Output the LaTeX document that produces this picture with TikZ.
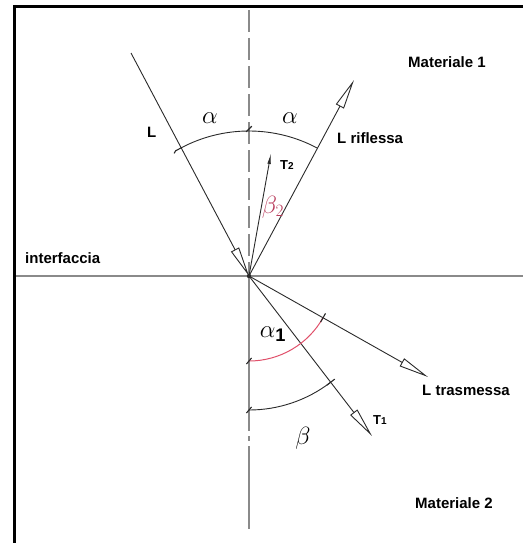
\documentclass[tikz,border=0pt]{standalone}
\usepackage{fontspec}
\setmainfont{Liberation Sans}
\usetikzlibrary{arrows.meta,calc}
\definecolor{axisgray}{HTML}{8A8A8A}
\definecolor{raycol}{HTML}{2A2A2A}
\definecolor{arcred}{HTML}{E0506A}
\definecolor{labred}{HTML}{B83A5A}
\begin{document}
\begin{tikzpicture}[x=1pt,y=-1pt,
  frame/.style={line width=3pt,black},
  axis/.style={line width=1.6pt,axisgray},
  ray/.style={line width=0.9pt,raycol},
  hollow/.style={-{Triangle[open,length=30pt,width=9pt,line width=0.9pt]}},
  thinhead/.style={-{Latex[length=11pt,width=3.5pt]}},
  tick/.style={line width=1.1pt,raycol},
  lab/.style={font=\fontsize{15}{17}\selectfont\bfseries,inner sep=0pt},
  tlab/.style={font=\fontsize{13}{14}\selectfont\bfseries,inner sep=0pt},
  greek/.style={inner sep=0pt,font=\fontsize{30}{32}\selectfont}]
\useasboundingbox (0,0) rectangle (523,543);
% frame (top and left only)
\draw[frame] (14.5,6.5) -- (523,6.5);
\draw[frame] (14.5,5) -- (14.5,543);
% axes
\coordinate (O) at (249,276);
\coordinate (Vtop) at (249,10);
\coordinate (Vmid) at (249,431);
\coordinate (Vdash) at (249,446);
\coordinate (Vbot) at (249,529);
\coordinate (Hl) at (16,276);
\coordinate (Hr) at (523,276);
\draw[axis] (Hl) -- (Hr);
\draw[axis,dash pattern=on 22pt off 6pt] (Vtop) -- (O);
\draw[axis] (O) -- (Vmid);
\draw[axis] (249,436) -- (249,441);
\draw[axis] (Vdash) -- (Vbot);
% rays
\coordinate (Lstart) at (131,53);
\coordinate (Rtip) at (354,80);
\coordinate (T2tip) at (271,153);
\coordinate (Ttip) at (428,377);
\coordinate (T1tip) at (372,436);
\draw[ray,hollow] (Lstart) -- (O);
\draw[ray,hollow] (O) -- (Rtip);
\draw[ray,thinhead] (O) -- (T2tip);
\draw[ray,hollow] (O) -- (Ttip);
\draw[ray,hollow] (O) -- (T1tip);
\fill[raycol] (O) circle (2.2);
% upper arc alpha
\draw[ray] ($(O)+(-118:145)$) arc[start angle=-118,end angle=-62,radius=145];
\draw[tick] ($(O)+(-118:145)$) ++(-28:1) -- ++(152:7) -- ++(120:3);
\draw[tick] ($(O)+(-90:147)$) ++(-45:4) -- ++(135:8);
% lower arcs
\draw[line width=1pt,arcred] ($(O)+(90:85)$) arc[start angle=90,end angle=29.4,radius=85];
\draw[ray] ($(O)+(90:134)$) arc[start angle=90,end angle=52.4,radius=134];
\draw[tick] ($(O)+(29.4:85)$) ++(119.4:5) -- ++(-60.6:10);
\draw[tick] ($(O)+(52.4:134)$) ++(142.4:5) -- ++(-37.6:10);
\draw[tick] ($(O)+(90:85)$) ++(-50:4) -- ++(130:8);
\draw[tick] ($(O)+(90:134)$) ++(-50:4) -- ++(130:8);
% labels
\node[lab,anchor=base west] (lL) at (147,137) {L};
\node[lab,anchor=base west] (lR) at (337,143) {L riflessa};
\node[lab,anchor=base west] (m1) at (408,67) {Materiale 1};
\node[lab,anchor=base west] (itf) at (25,263) {interfaccia};
\node[lab,anchor=base west] (lT) at (422,395) {L trasmessa};
\node[lab,anchor=base west] (m2) at (415,508) {Materiale 2};
\node[tlab,anchor=base west] (t2) at (280,169) {T{\fontsize{10}{10}\selectfont 2}};
\node[tlab,anchor=base west] (t1) at (373,424) {T{\fontsize{10}{10}\selectfont 1}};
\node[greek] (a1) at (210,118) {$\alpha$};
\node[greek] (a2) at (290,118) {$\alpha$};
\node[greek,font=\fontsize{24}{26}\selectfont,text=labred] (b2) at (273,207) {$\beta_{\fontsize{13}{13}\selectfont 2}$};
\node[greek,font=\fontsize{26}{28}\selectfont] (a3) at (273,334) {$\alpha_{\fontsize{13}{13}\selectfont\mathbf{1}}$};
\node[greek,font=\fontsize{24}{26}\selectfont] (bb) at (303,438) {$\beta$};
\end{tikzpicture}
\end{document}
